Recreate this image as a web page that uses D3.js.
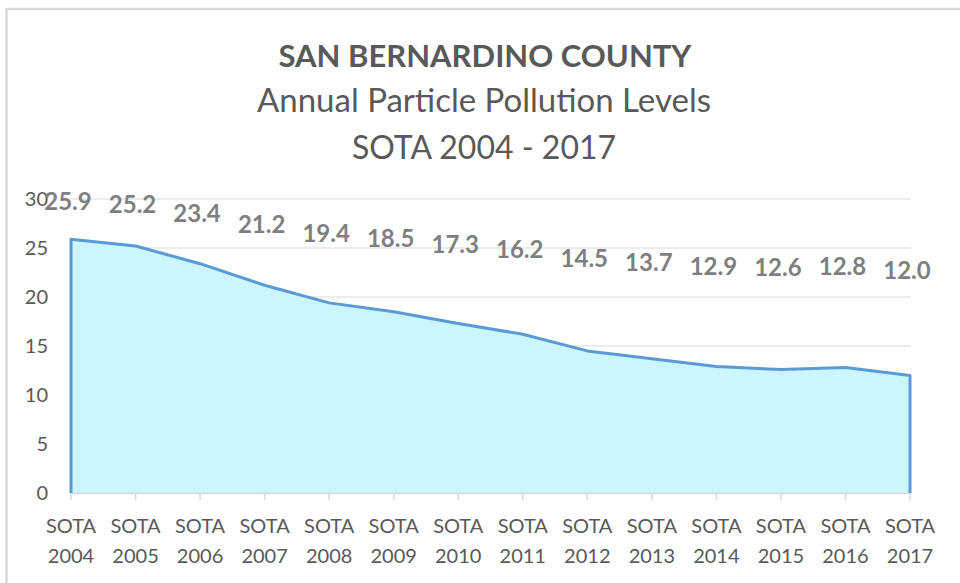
<!DOCTYPE html>
<html>
<head>
<meta charset="utf-8">
<script src="https://cdn.jsdelivr.net/npm/d3@7"></script>
<style>
  body { margin: 0; background: #fff; }
  text { font-family: Lato, "Open Sans", sans-serif; }
</style>
</head>
<body>
<script>
const years = ['2004','2005','2006','2007','2008','2009','2010','2011','2012','2013','2014','2015','2016','2017']
const values = [25.9, 25.2, 23.4, 21.2, 19.4, 18.5, 17.3, 16.2, 14.5, 13.7, 12.9, 12.6, 12.8, 12.0]
const yTicks = [0, 5, 10, 15, 20, 25, 30]
const titleLines = ['SAN BERNARDINO COUNTY', 'Annual Particle Pollution Levels', 'SOTA 2004 - 2017']

const w = 960
const h = 583
const plotLeft = 71, plotRight = 910, plotTop = 199, plotBottom = 493

const svg = d3.select('body').append('svg')
  .attr('width', w)
  .attr('height', h)

// chart border (only top and left visible in the crop)
svg.append('rect')
  .attr('x', 6.5).attr('y', 9)
  .attr('width', 980).attr('height', 620)
  .style('fill', 'none')
  .style('stroke', '#d9d9d9')
  .style('stroke-width', 2.5)

const x = d3.scalePoint().domain(years).range([plotLeft, plotRight])
const y = d3.scaleLinear().domain([0, 30]).range([plotBottom, plotTop])
// labels sit on their own scale (they are squashed toward the top)
const labelY = d3.scaleLinear().domain([12.0, 25.9]).range([270, 201])

// gridlines
svg.append('g').selectAll('line')
  .data(yTicks.filter(d => d > 0))
  .enter().append('line')
  .attr('x1', plotLeft).attr('x2', plotRight + 1)
  .attr('y1', d => y(d)).attr('y2', d => y(d))
  .style('stroke', '#d9d9d9')
  .style('stroke-width', 1)

// y tick labels
svg.append('g').selectAll('text')
  .data(yTicks)
  .enter().append('text')
  .attr('x', 48)
  .attr('y', d => y(d) + 7)
  .attr('text-anchor', 'end')
  .style('font-size', '20px')
  .style('fill', '#595959')
  .text(d => d)

const pts = years.map((yr, i) => [x(yr), y(values[i])])

// area fill
const area = d3.area()
  .x(d => d[0])
  .y0(y(0))
  .y1(d => d[1])
svg.append('path')
  .datum(pts)
  .attr('d', area)
  .style('fill', '#ccf6fd')

// x axis line + ticks
svg.append('line')
  .attr('x1', plotLeft).attr('x2', plotRight)
  .attr('y1', plotBottom + 0.5).attr('y2', plotBottom + 0.5)
  .style('stroke', '#d9d9d9')
  .style('stroke-width', 1.5)

svg.append('g').selectAll('line')
  .data(years)
  .enter().append('line')
  .attr('x1', d => x(d)).attr('x2', d => x(d))
  .attr('y1', plotBottom).attr('y2', plotBottom + 7)
  .style('stroke', '#d9d9d9')
  .style('stroke-width', 1.5)

// outline: left edge, top line, right edge
const outline = [[pts[0][0], y(0)]].concat(pts, [[pts[pts.length - 1][0], y(0)]])
svg.append('path')
  .datum(outline)
  .attr('d', d3.line())
  .style('fill', 'none')
  .style('stroke', '#5b9bd5')
  .style('stroke-width', 3)
  .style('stroke-linejoin', 'round')

// x tick labels
const xl = svg.append('g').selectAll('text')
  .data(years)
  .enter().append('text')
  .attr('text-anchor', 'middle')
  .style('font-size', '20px')
  .style('fill', '#595959')
xl.append('tspan').attr('x', d => x(d)).attr('y', 533).text('SOTA')
xl.append('tspan').attr('x', d => x(d)).attr('y', 563).text(d => d)

// data labels
svg.append('g').selectAll('text')
  .data(values)
  .enter().append('text')
  .attr('x', (d, i) => x(years[i]) - 3)
  .attr('y', d => labelY(d) + 9)
  .attr('text-anchor', 'middle')
  .style('font-size', '24px')
  .style('font-weight', 'bold')
  .style('fill', '#7f7f7f')
  .text(d => d.toFixed(1))

// titles
svg.append('text')
  .attr('x', 485).attr('y', 67)
  .attr('text-anchor', 'middle')
  .style('font-size', '31px')
  .style('font-weight', 'bold')
  .style('fill', '#595959')
  .text(titleLines[0])
svg.append('text')
  .attr('x', 484).attr('y', 112)
  .attr('text-anchor', 'middle')
  .style('font-size', '33px')
  .style('fill', '#595959')
  .text(titleLines[1])
svg.append('text')
  .attr('x', 484).attr('y', 159)
  .attr('text-anchor', 'middle')
  .style('font-size', '32px')
  .style('fill', '#595959')
  .text(titleLines[2])
</script>
</body>
</html>
